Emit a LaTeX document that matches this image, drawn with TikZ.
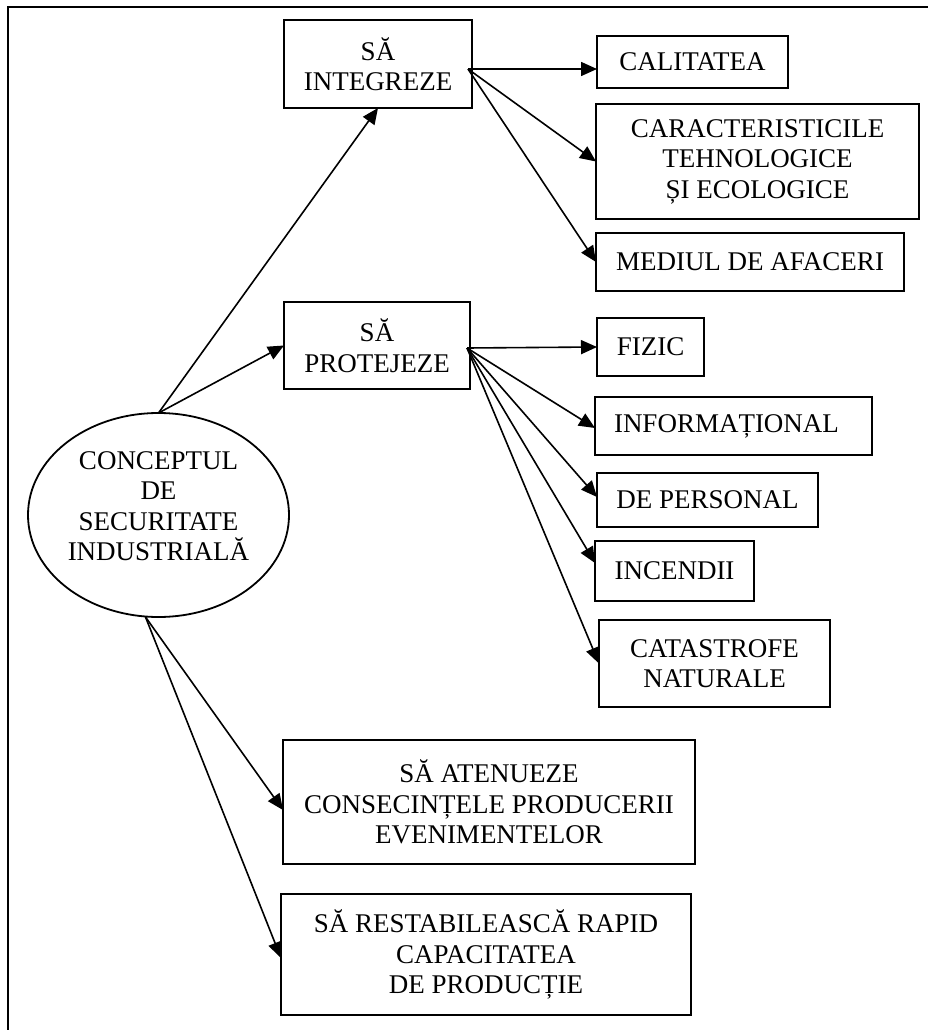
\documentclass[tikz,border=0pt]{standalone}
\usepackage{fontspec}
\setmainfont{Liberation Serif}
\usetikzlibrary{arrows.meta,calc,shapes.geometric}
\begin{document}
\begin{tikzpicture}[x=1pt,y=-1pt,
  box/.style={draw,line width=2pt,rectangle,inner sep=0pt,outer sep=0pt,align=center,font=\fontsize{27}{30.5}\selectfont},
  ell/.style={draw,line width=1.8pt,ellipse,inner sep=0pt,outer sep=0pt,minimum width=261pt,minimum height=204pt},
  txt/.style={inner sep=0pt,align=center,font=\fontsize{27}{30.5}\selectfont},
  arr/.style={line width=1.6pt,-{Triangle[length=16pt,width=14pt]}},
  frame/.style={line width=2.5pt}
]
\useasboundingbox (0,0) rectangle (928,1030);
\draw[frame] (8,1030) -- (8,7) -- (928,7);

% main concept
\node[ell] (concept) at (158.5,515) {};
\node[txt] (conceptlbl) at (158.5,506) {CONCEPTUL\\DE\\SECURITATE\\INDUSTRIALĂ};

% first level
\node[box,minimum width=188pt,minimum height=88pt] (integ) at (378,64) {SĂ\\INTEGREZE};
\node[box,minimum width=186pt,minimum height=87pt] (prot) at (377,345.5) {SĂ\\PROTEJEZE};
\node[box,minimum width=412pt,minimum height=124pt] (aten) at (489,802) {SĂ ATENUEZE\\CONSECINȚELE PRODUCERII\\EVENIMENTELOR};
\node[box,minimum width=410pt,minimum height=121pt] (rest) at (486,954.5) {SĂ RESTABILEASCĂ RAPID\\CAPACITATEA\\DE PRODUCȚIE};

% integreze children
\node[box,minimum width=191pt,minimum height=52pt] (cal) at (692.5,62) {CALITATEA};
\node[box,minimum width=323pt,minimum height=115pt] (car) at (757.5,161.5) {CARACTERISTICILE\\TEHNOLOGICE\\ȘI ECOLOGICE};
\node[box,minimum width=308pt,minimum height=58pt] (med) at (750,262) {MEDIUL DE AFACERI};

% protejeze children
\node[box,minimum width=107pt,minimum height=58pt] (fiz) at (650.5,347) {FIZIC};
\node[box,minimum width=277pt,minimum height=58pt] (info) at (733.5,426) {INFORMAȚIONAL\hspace*{14pt}};
\node[box,minimum width=221pt,minimum height=54pt] (pers) at (707.5,500) {DE PERSONAL};
\node[box,minimum width=159pt,minimum height=60pt] (inc) at (674.5,571) {INCENDII};
\node[box,minimum width=231pt,minimum height=87pt] (cata) at (714.5,663.5) {CATASTROFE\\NATURALE};

% connector origins
\coordinate (iout) at ($(integ.east)+(-4,5)$);
\coordinate (pout) at ($(prot.east)+(-3,2.5)$);
\coordinate (ctop) at (concept.north);
\coordinate (cbot) at ($(concept.south)+(-13,0)$);

% arrows from concept
\draw[arr] (ctop) -- (integ.south);
\draw[arr] (ctop) -- (prot.west);
\draw[arr] (cbot) -- ($(aten.west)+(0,8)$);
\draw[arr] (cbot) -- ($(rest.west)+(0,3.5)$);

% arrows from integreze
\draw[arr] (iout) -- ($(cal.west)+(0,7)$);
\draw[arr] (iout) -- (car.west);
\draw[arr] (iout) -- (med.west);

% arrows from protejeze
\draw[arr] (pout) -- (fiz.west);
\draw[arr] (pout) -- ($(info.west)+(0,2)$);
\draw[arr] (pout) -- ($(pers.west)+(0,-3)$);
\draw[arr] (pout) -- ($(inc.west)+(0,-8)$);
\draw[arr] (pout) -- (cata.west);
\end{tikzpicture}
\end{document}
